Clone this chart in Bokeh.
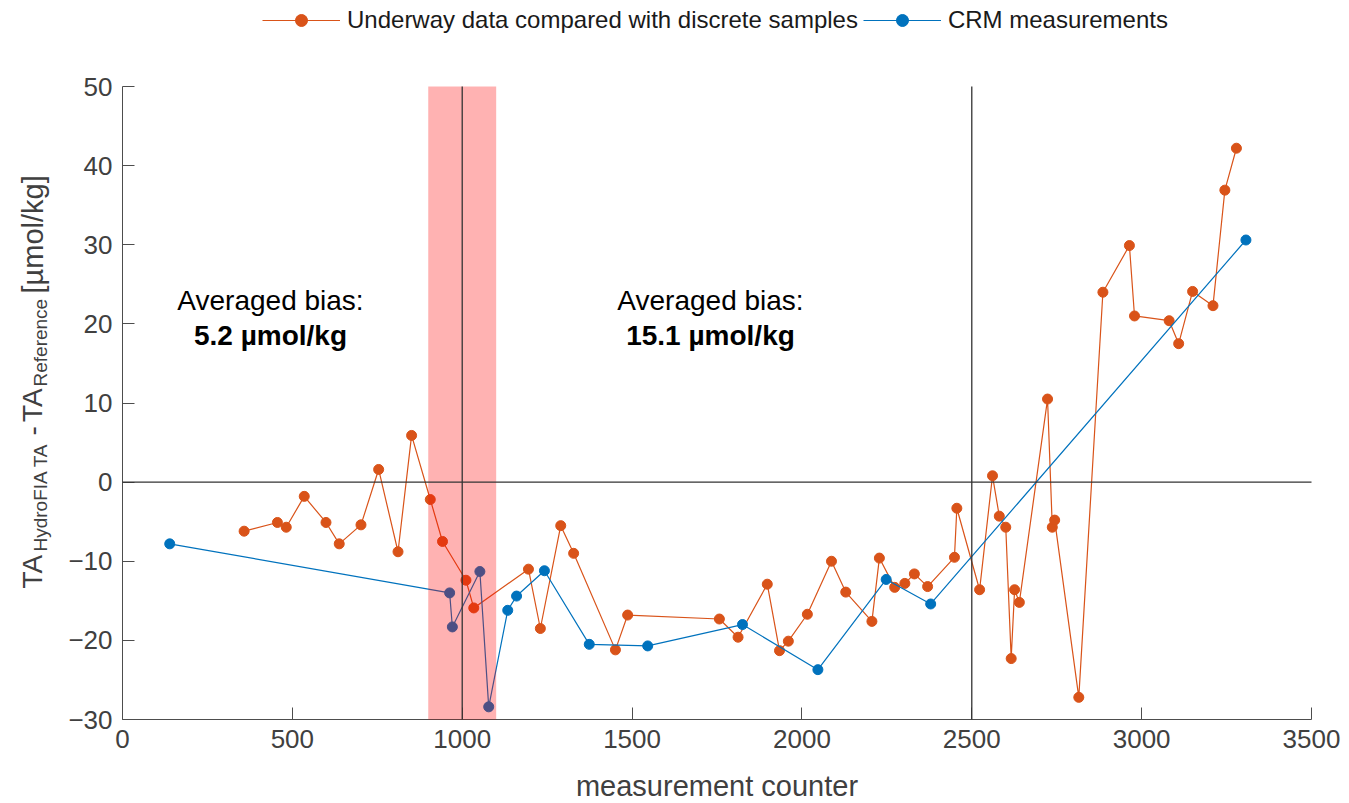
from bokeh.plotting import figure
from bokeh.models import (Label, BoxAnnotation, Legend, LegendItem,
                          FixedTicker, Range1d, LinearAxis)
from bokeh.embed import file_html
from bokeh.resources import INLINE

# Underway HydroFIA TA minus discrete reference samples
underway_counter = [358, 456, 482, 535, 599, 638, 702, 754, 811, 851, 906, 942,
                    1011, 1034, 1195, 1230, 1290, 1328, 1451, 1487, 1757, 1812,
                    1898, 1934, 1960, 2016, 2087, 2129, 2206, 2228, 2273, 2303,
                    2331, 2370, 2449, 2456, 2523, 2561, 2581, 2600, 2616, 2626,
                    2640, 2723, 2737, 2744, 2815, 2886, 2964, 2979, 3081, 3109,
                    3150, 3210, 3245, 3279]
underway_bias = [-6.2, -5.1, -5.7, -1.8, -5.1, -7.8, -5.4, 1.6, -8.8, 5.9, -2.2,
                 -7.5, -12.4, -15.9, -11.0, -18.5, -5.5, -9.0, -21.2, -16.8,
                 -17.3, -19.6, -12.9, -21.3, -20.1, -16.7, -10.0, -13.9, -17.6,
                 -9.6, -13.3, -12.8, -11.6, -13.2, -9.5, -3.3, -13.6, 0.8, -4.3,
                 -5.7, -22.3, -13.6, -15.2, 10.5, -5.7, -4.8, -27.2, 24.0, 29.9,
                 21.0, 20.4, 17.5, 24.1, 22.3, 36.9, 42.2]

# Certified reference material runs
crm_counter = [139, 963, 971, 1052, 1078, 1134, 1160, 1242, 1374, 1546, 1825,
               2047, 2248, 2379, 3307]
crm_bias = [-7.8, -14.0, -18.3, -11.3, -28.4, -16.2, -14.4, -11.2, -20.5,
            -20.7, -18.0, -23.7, -12.3, -15.4, 30.6]

x_ticks = [0, 500, 1000, 1500, 2000, 2500, 3000, 3500]
y_ticks = [-30, -20, -10, 0, 10, 20, 30, 40, 50]
period_breaks = [1000, 2500]
excluded_window = (900, 1100)
bias_texts = [("Averaged bias:", "5.2 µmol/kg"), ("Averaged bias:", "15.1 µmol/kg")]

ORANGE = "#D95319"
BLUE = "#0072BD"
GREY = "#404040"
FONT = "Liberation Sans"

# canvas and the axes box inside it (pixels)
W, H = 1349, 803
L, R, T, B = 122, 38, 86, 84
AW, AH = W - L - R, H - T - B
X0, X1, Y0, Y1 = 0, 3500, -30, 50
KX = (X1 - X0) / AW
KY = (Y1 - Y0) / AH


def sx(px):
    """canvas pixel column -> data x"""
    return X0 + (px - L) * KX


def sy(py):
    """canvas pixel row -> data y"""
    return Y1 - (py - T) * KY


# the plotting frame covers the whole canvas so that titles and legend
# around the axes box are drawn inside it
p = figure(width=W, height=H,
           x_range=Range1d(sx(0), sx(W)), y_range=Range1d(sy(H), sy(0)),
           output_backend="svg", toolbar_location=None,
           x_axis_location=None, y_axis_location=None, min_border=0)
p.outline_line_color = None
p.grid.visible = False
p.background_fill_color = "white"

xaxis = LinearAxis(fixed_location=Y0, bounds=(X0, X1),
                   ticker=FixedTicker(ticks=x_ticks))
yaxis = LinearAxis(fixed_location=X0, bounds=(Y0, Y1),
                   ticker=FixedTicker(ticks=y_ticks))
for ax in (xaxis, yaxis):
    ax.axis_line_color = "#4d4d4d"
    ax.axis_line_width = 1
    ax.major_tick_line_color = "#4d4d4d"
    ax.major_tick_in = 12
    ax.major_tick_out = 0
    ax.minor_tick_line_color = None
    ax.major_label_text_font = FONT
    ax.major_label_text_font_size = "26px"
    ax.major_label_text_color = GREY
    ax.major_label_standoff = 10
xaxis.axis_label = "measurement counter"
xaxis.axis_label_text_font = FONT
xaxis.axis_label_text_font_size = "29px"
xaxis.axis_label_text_font_style = "normal"
xaxis.axis_label_text_color = GREY
xaxis.axis_label_standoff = 19
p.add_layout(xaxis, "below")
p.add_layout(yaxis, "left")

# data series
ul = p.line(underway_counter, underway_bias, line_color=ORANGE, line_width=1.2)
us = p.scatter(underway_counter, underway_bias, size=10, fill_color=ORANGE,
               line_color=ORANGE, line_width=1)
cl = p.line(crm_counter, crm_bias, line_color=BLUE, line_width=1.2)
cs = p.scatter(crm_counter, crm_bias, size=10, fill_color=BLUE, line_color=BLUE,
               line_width=1)

# excluded window, drawn over the data
p.add_layout(BoxAnnotation(left=excluded_window[0], right=excluded_window[1],
                           bottom=Y0, top=Y1, fill_color="red", fill_alpha=0.3,
                           line_color=None))

# period boundaries and zero line
p.segment(x0=period_breaks, y0=[Y0] * len(period_breaks),
          x1=period_breaks, y1=[Y1] * len(period_breaks),
          line_color="#333333", line_width=1.3, level="overlay")
p.segment(x0=[X0], y0=[0], x1=[X1], y1=[0],
          line_color="#333333", line_width=1.3, level="overlay")

# averaged bias text for both periods
for cx, (head, val) in zip((270, 710), bias_texts):
    p.add_layout(Label(x=sx(cx), y=sy(300), text=head, text_align="center",
                       text_baseline="alphabetic", text_font=FONT,
                       text_font_size="28px", text_color="black"))
    p.add_layout(Label(x=sx(cx), y=sy(335), text=val, text_align="center",
                       text_baseline="alphabetic", text_font=FONT,
                       text_font_size="28px", text_font_style="bold",
                       text_color="black"))

# y-axis title with subscripts, built from rotated pieces
# (text, start row, baseline column, size)
base_px = 32
sub_px = 40
pieces = [
    ("TA", 588, base_px, "28px"),
    ("HydroFIA TA", 551, sub_px, "19px"),
    ("-", 435, base_px, "28px"),
    ("TA", 421.5, base_px, "28px"),
    ("Reference", 386, sub_px, "19px"),
    ("[µmol/kg]", 293, base_px, "29px"),
]
for txt, py, px, fs in pieces:
    p.add_layout(Label(x=sx(px), y=sy(py), text=txt, angle=90, angle_units="deg",
                       text_align="left", text_baseline="alphabetic",
                       text_font=FONT, text_font_size=fs, text_color=GREY))

legend = Legend(items=[
    LegendItem(label="Underway data compared with discrete samples", renderers=[ul, us]),
    LegendItem(label="CRM measurements", renderers=[cl, cs]),
], orientation="horizontal", location=(262, H - 35))
legend.border_line_color = None
legend.background_fill_alpha = 0
legend.padding = 0
legend.margin = 0
legend.spacing = 5
legend.glyph_width = 78
legend.glyph_height = 30
legend.label_height = 30
legend.label_standoff = 7
legend.label_text_font = FONT
legend.label_text_font_size = "24px"
legend.label_text_color = "#1a1a1a"
p.add_layout(legend)

open("out.html", "w").write(file_html(p, INLINE))
